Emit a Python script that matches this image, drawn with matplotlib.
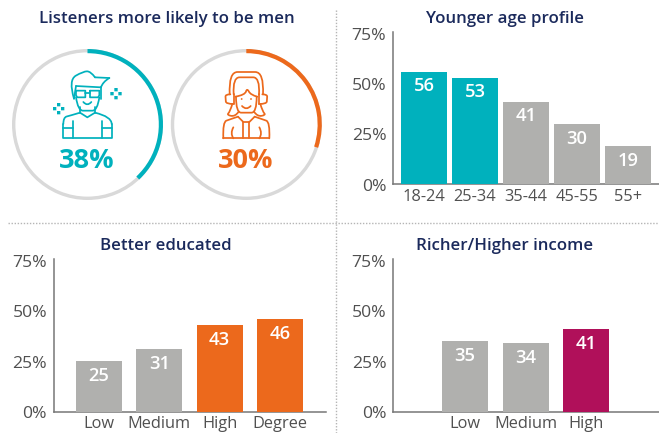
import matplotlib
matplotlib.use("Agg")
import matplotlib.pyplot as plt
from matplotlib.path import Path
from matplotlib.patches import PathPatch, Rectangle, Circle
from matplotlib.transforms import ScaledTranslation

W, H = 659, 433
FONT = "Open Sans"
NAVY = "#1b2a5c"
TICK = "#505050"
TEAL = "#00b1bd"
ORANGE = "#ec691c"
GREY = "#b0b0ae"
RING = "#d9d9d9"
CRIMSON = "#b0105a"

y_ticks = [0, 25, 50, 75]
y_tick_labels = ["0%", "25%", "50%", "75%"]

age_labels = ["18-24", "25-34", "35-44", "45-55", "55+"]
age_values = [56, 53, 41, 30, 19]
edu_labels = ["Low", "Medium", "High", "Degree"]
edu_values = [25, 31, 43, 46]
inc_labels = ["Low", "Medium", "High"]
inc_values = [35, 34, 41]
men_share = 38
women_share = 30

fig = plt.figure(figsize=(W / 100, H / 100), dpi=100, facecolor="white")


def px_axes(x0, x1, ytop, ybot, **kw):
    return fig.add_axes([x0 / W, 1 - ybot / H, (x1 - x0) / W, (ybot - ytop) / H], **kw)


def bar_panel(x0, x1, ybase, centre0, spacing, labels, values, colors):
    ax = px_axes(x0, x1, ybase - 152.5, ybase)
    ax.patch.set_alpha(0)
    xs = list(range(len(values)))
    ax.bar(xs, values, width=46 / spacing, color=colors, linewidth=0, zorder=3)
    ax.set_xlim((x0 - centre0) / spacing, (x1 - centre0) / spacing)
    ax.set_ylim(0, 75.7)
    ax.set_yticks(y_ticks, y_tick_labels, fontfamily=FONT, fontsize=12.6, color=TICK)
    ax.set_xticks(xs, labels, fontfamily=FONT, fontsize=11.8, color=TICK)
    ax.tick_params(axis="both", length=0)
    ax.tick_params(axis="y", pad=5)
    ax.tick_params(axis="x", pad=3)
    shift = ScaledTranslation(0, -2.2 / 100, fig.dpi_scale_trans)
    for lab in ax.get_yticklabels():
        lab.set_verticalalignment("center")
        lab.set_transform(lab.get_transform() + shift)
    for s in ("top", "right"):
        ax.spines[s].set_visible(False)
    for s in ("left", "bottom"):
        ax.spines[s].set_color("#777777")
        ax.spines[s].set_linewidth(1.1)
    for x, v in zip(xs, values):
        ax.text(x, v - 7.2, str(v), ha="center", va="center", color="white",
                fontfamily=FONT, fontsize=13.2, fontweight="semibold", zorder=4)
    return ax


bar_panel(393.3, 659, 184.5, 424, 51, age_labels, age_values,
          [TEAL, TEAL, GREY, GREY, GREY])
bar_panel(54, 325.6, 411.7, 99, 60.33, edu_labels, edu_values,
          [GREY, GREY, ORANGE, ORANGE])
bar_panel(393.3, 659, 411.7, 465, 60.5, inc_labels, inc_values,
          [GREY, GREY, CRIMSON])


def ring(cx, cy, share, color):
    r = 75.5
    ax = px_axes(cx - r, cx + r, cy - r, cy + r)
    ax.pie([1], colors=[RING], radius=1, startangle=90,
           wedgeprops=dict(width=3.4 / r, linewidth=0))
    ax.pie([share, 100 - share], colors=[color, "none"], radius=1, startangle=90,
           counterclock=False, wedgeprops=dict(width=4.2 / r, linewidth=0))
    ax.set_xlim(-1, 1)
    ax.set_ylim(-1, 1)
    ax.set_aspect("equal")
    ax.axis("off")


ring(87.5, 124.5, men_share, TEAL)
ring(246.3, 124.5, women_share, ORANGE)

ov = fig.add_axes([0, 0, 1, 1], zorder=10)
ov.set_xlim(0, W)
ov.set_ylim(H, 0)
ov.axis("off")

ov.plot([8, W], [222.5, 222.5], color="#b5b5b5", lw=1, ls=(0, (1, 1.2)))
ov.plot([336, 336], [10, H], color="#b5b5b5", lw=1, ls=(0, (1, 1.2)))

for text, x, y in [("Listeners more likely to be men", 166.7, 19),
                   ("Younger age profile", 505.5, 19),
                   ("Better educated", 166.3, 245.7),
                   ("Richer/Higher income", 505, 245.7)]:
    ov.text(x, y, text, ha="center", va="center", color=NAVY, fontfamily=FONT,
            fontsize=12.2, fontweight="semibold")

ov.text(87, 160.5, f"{men_share}%", ha="center", va="center", color=TEAL,
        fontfamily=FONT, fontsize=19.5, fontweight="bold")
ov.text(246, 160.5, f"{women_share}%", ha="center", va="center", color=ORANGE,
        fontfamily=FONT, fontsize=19.5, fontweight="bold")

LW = 1.25


def line(pts, color, closed=False):
    p = [(a / 3, b / 3) for a, b in pts]
    if closed:
        p.append(p[0])
    ov.plot([q[0] for q in p], [q[1] for q in p], color=color, lw=LW,
            solid_capstyle="round", solid_joinstyle="round")


def curve(pts, color):
    p = [(a / 3, b / 3) for a, b in pts]
    verts = [p[0]]
    codes = [Path.MOVETO]
    for i in range(1, len(p) - 1):
        mid = ((p[i][0] + p[i + 1][0]) / 2, (p[i][1] + p[i + 1][1]) / 2)
        if i == len(p) - 2:
            mid = p[-1]
        verts += [p[i], mid]
        codes += [Path.CURVE3, Path.CURVE3]
    ov.add_patch(PathPatch(Path(verts, codes), fc="none", ec=color, lw=LW,
                           capstyle="round", joinstyle="round"))


def sparkle(x, y, color):
    for dx, dy in [(-12, 0), (12, 0), (0, -12), (0, 12)]:
        r = Rectangle(((x + dx - 5) / 3, (y + dy - 5) / 3), 10 / 3, 10 / 3,
                      fc=color, ec="none")
        r.set_snap(False)
        ov.add_patch(r)


# Man icon
c = TEAL
curve([(190, 372), (190, 352), (210, 347), (240, 338)], c)
line([(240, 338), (262, 352), (285, 338)], c)
curve([(285, 338), (335, 350), (335, 372)], c)
line([(190, 372), (190, 415), (335, 415), (335, 372)], c)
line([(190, 385), (218, 385)], c)
line([(218, 362), (218, 415)], c)
line([(307, 385), (335, 385)], c)
line([(307, 362), (307, 415)], c)
line([(240, 338), (240, 322)], c)
line([(285, 338), (285, 322)], c)
curve([(228, 292), (234, 332), (263, 332), (292, 332), (298, 292)], c)
curve([(222, 296), (205, 240), (250, 214), (272, 214), (285, 232)], c)
line([(285, 232), (328, 234)], c)
curve([(328, 234), (308, 246), (303, 262)], c)
line([(303, 262), (228, 258)], c)
line([(222, 296), (228, 258)], c)
line([(303, 262), (303, 296)], c)
line([(228, 272), (256, 272), (256, 292), (232, 292), (228, 286), (228, 272)], c)
line([(270, 272), (298, 272), (298, 286), (294, 292), (270, 292), (270, 272)], c)
line([(256, 278), (270, 278)], c)
curve([(250, 306), (262, 320), (274, 306)], c)
sparkle(348, 281, c)
sparkle(176, 326, c)

# Woman icon
c = ORANGE
curve([(689, 283), (686, 216), (739, 216), (792, 216), (789, 283)], c)
curve([(701, 283), (698, 232), (739, 232), (780, 232), (777, 283)], c)
curve([(691, 283), (676, 283), (677, 297), (678, 312), (701, 312)], c)
line([(701, 283), (701, 312)], c)
curve([(787, 283), (802, 283), (801, 297), (800, 312), (777, 312)], c)
line([(777, 283), (777, 312)], c)
curve([(706, 290), (735, 285), (741, 264), (752, 285), (772, 290)], c)
curve([(708, 290), (708, 338), (739, 338), (770, 338), (770, 290)], c)
curve([(726, 318), (739, 332), (752, 318)], c)
ov.add_patch(Circle((725 / 3, 297 / 3), 0.9, fc=c, ec="none"))
ov.add_patch(Circle((753 / 3, 297 / 3), 0.9, fc=c, ec="none"))
curve([(697, 312), (690, 335), (680, 345), (706, 350), (716, 335)], c)
curve([(781, 312), (788, 335), (798, 345), (772, 350), (762, 335)], c)
curve([(670, 415), (668, 366), (690, 358), (714, 350)], c)
curve([(808, 415), (810, 366), (788, 358), (764, 350)], c)
line([(670, 415), (808, 415)], c)
line([(714, 350), (730, 366), (748, 366), (764, 350)], c)
line([(730, 366), (730, 415)], c)
line([(748, 366), (748, 415)], c)
curve([(700, 382), (690, 400), (700, 415)], c)
curve([(778, 382), (788, 400), (778, 415)], c)

fig.savefig("out.png", dpi=100, facecolor="white")
